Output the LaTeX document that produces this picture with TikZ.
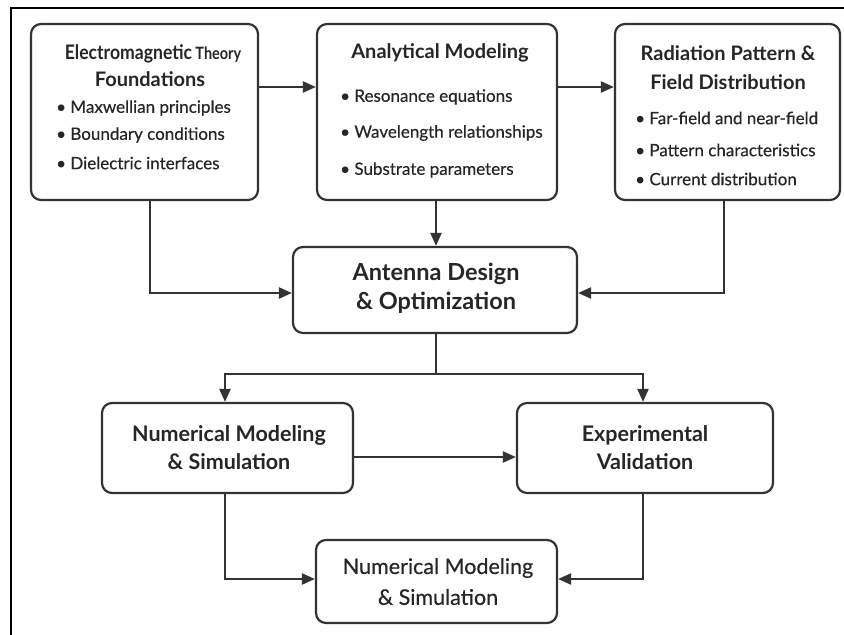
\documentclass[tikz,border=0pt]{standalone}
\usepackage{fontspec}
\setmainfont{Lato}
\newfontfamily\medfont{Lato}[FakeBold=0.35]
\usetikzlibrary{arrows.meta,calc}
\definecolor{ink}{HTML}{333333}
\definecolor{txt}{HTML}{262626}
\begin{document}
\begin{tikzpicture}[x=1pt,y=-1pt,
  box/.style={draw=ink, line width=2.2pt, rounded corners=10pt, fill=white, inner sep=0pt},
  arr/.style={draw=ink, line width=2.2pt, -{Triangle[length=13pt,width=11pt]}},
  link/.style={draw=ink, line width=2.2pt},
  ttl/.style={text=txt, font=\fontsize{20}{24}\selectfont\bfseries, inner sep=0pt},
  big/.style={text=txt, font=\fontsize{23.5}{28}\selectfont\bfseries, inner sep=0pt},
  mid/.style={text=txt, font=\fontsize{21.5}{26}\selectfont\bfseries, inner sep=0pt},
  low/.style={text=txt, font=\fontsize{21.5}{26}\selectfont\medfont, inner sep=0pt},
  itm/.style={text=txt, font=\fontsize{17}{20}\selectfont\medfont, inner sep=0pt, anchor=west}]
\useasboundingbox (0,0) rectangle (844,635);
\fill[white] (0,0) rectangle (844,635);
% page frame (top and left edges)
\draw[black, line width=2pt] (11,635) -- (11,8) -- (844,8);

% top row
\node[box, minimum width=227pt, minimum height=176pt] (b1) at (144.5,112) {};
\node[box, minimum width=240pt, minimum height=176pt] (b2) at (437,112) {};
\node[box, minimum width=225pt, minimum height=176pt] (b3) at (727.5,112) {};
% centre
\node[box, minimum width=284pt, minimum height=86pt] (b4) at (435,290) {};
% middle row
\node[box, minimum width=251pt, minimum height=90pt] (b5) at (227.5,448) {};
\node[box, minimum width=256pt, minimum height=90pt] (b6) at (645,448) {};
% bottom
\node[box, minimum width=241pt, minimum height=83pt] (b7) at (436.5,581.5) {};

% texts of the first box
\node[ttl] (t1a) at (153,54) {\scalebox{0.88}[1]{Electromagnetic}\,\scalebox{0.85}[1]{\fontsize{17}{20}\selectfont Theory}};
\node[ttl] (t1b) at (150,79) {Foundations};
\node[itm] (i1a) at (56,108) {• Maxwellian principles};
\node[itm] (i1b) at (56,135) {• Boundary conditions};
\node[itm] (i1c) at (56,163) {• Dielectric interfaces};

% texts of the second box
\node[ttl] (t2a) at (440,53) {Analytical Modeling};
\node[itm] (i2a) at (340,97) {• Resonance equations};
\node[itm] (i2b) at (340,133) {• Wavelength relationships};
\node[itm] (i2c) at (340,170) {• Substrate parameters};

% texts of the third box
\node[ttl] (t3a) at (728,53) {Radiation Pattern \&};
\node[ttl] (t3b) at (728,82) {Field Distribution};
\node[itm] (i3a) at (635,118) {• Far-field and near-field};
\node[itm] (i3b) at (635,150) {• Pattern characteristics};
\node[itm] (i3c) at (635,179) {• Current distribution};

% remaining boxes
\node[big] (t4a) at (436,274) {Antenna Design};
\node[big] (t4b) at (436,303) {\& Optimization};
\node[mid] (t5a) at (229,435) {Numerical Modeling};
\node[mid] (t5b) at (229,462) {\& Simulation};
\node[mid] (t6a) at (645,435) {Experimental};
\node[mid] (t6b) at (645,462) {Validation};
\node[low] (t7a) at (438,568) {Numerical Modeling};
\node[low] (t7b) at (438,597) {\& Simulation};

% connectors
\coordinate (row1) at (0,87);
\draw[arr] (b1.east |- row1) -- (b2.west |- row1);
\draw[arr] (b2.east |- row1) -- (b3.west |- row1);
\draw[arr] ([xshift=5.5pt]b1.south) |- ([yshift=-3pt]b4.west);
\draw[arr] ([xshift=-1pt]b2.south) -- ([xshift=-1pt]b2.south |- b4.north);
\draw[arr] ([xshift=-3.5pt]b3.south) |- ([yshift=-3pt]b4.east);
\coordinate (split) at (436,374);
\draw[link] (b4.south -| split) -- (split);
\draw[arr] (split) -| ([xshift=-2.5pt]b5.north);
\draw[arr] (split) -| ([xshift=-2pt]b6.north);
\draw[arr] ([yshift=-9pt]b5.east) -- ([yshift=-9pt]b6.west);
\draw[arr] ([xshift=-2.5pt]b5.south) |- ([yshift=2.5pt]b7.west);
\draw[arr] ([xshift=-2pt]b6.south) |- ([yshift=2.5pt]b7.east);
\end{tikzpicture}
\end{document}
